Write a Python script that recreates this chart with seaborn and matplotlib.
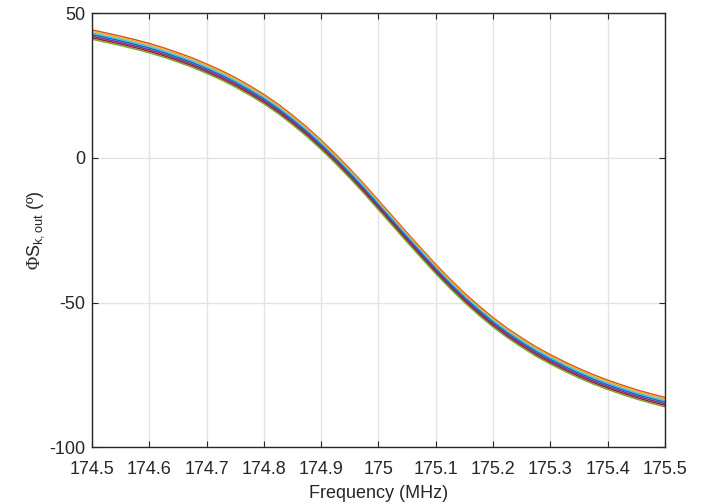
import numpy as np
import pandas as pd
import matplotlib
matplotlib.use("Agg")
import matplotlib.pyplot as plt
import seaborn as sns

# Frequency samples (MHz) and the central phase trace (degrees)
freq_mhz = [174.500, 174.525, 174.550, 174.575, 174.600, 174.625, 174.650, 174.675,
            174.700, 174.725, 174.750, 174.775, 174.800, 174.825, 174.850, 174.875,
            174.900, 174.925, 174.950, 174.975, 175.000, 175.025, 175.050, 175.075,
            175.100, 175.125, 175.150, 175.175, 175.200, 175.225, 175.250, 175.275,
            175.300, 175.325, 175.350, 175.375, 175.400, 175.425, 175.450, 175.475,
            175.500]
phase_center = [42.6, 41.5, 40.4, 39.2, 37.9, 36.4, 34.7, 32.9,
                30.8, 28.6, 26.1, 23.3, 20.3, 16.9, 13.1, 9.0,
                4.5, -0.3, -5.4, -10.7, -16.3, -21.9, -27.5, -33.0,
                -38.4, -43.5, -48.3, -52.7, -56.8, -60.5, -63.8, -66.9,
                -69.6, -72.1, -74.4, -76.5, -78.4, -80.1, -81.7, -83.1,
                -84.4]
# Small spread of the individual traces around the centre (degrees)
trace_offsets = [1.6, 1.1, 0.55, 0.0, -0.55, -1.1, -1.6]
trace_names = ["k=1", "k=2", "k=3", "k=4", "k=5", "k=6", "k=7"]
matlab_colors = ["#D95319", "#EDB120", "#4DBEEE", "#0072BD", "#7E2F8E", "#A2142F", "#77AC30"]

x_ticks = [174.5, 174.6, 174.7, 174.8, 174.9, 175.0, 175.1, 175.2, 175.3, 175.4, 175.5]
x_tick_labels = ["174.5", "174.6", "174.7", "174.8", "174.9", "175", "175.1",
                 "175.2", "175.3", "175.4", "175.5"]
y_ticks = [-100, -50, 0, 50]
y_tick_labels = ["-100", "-50", "0", "50"]

rows = []
for name, off in zip(trace_names, trace_offsets):
    for f, p in zip(freq_mhz, phase_center):
        rows.append({"freq": f, "phase": p + off, "trace": name})
df = pd.DataFrame(rows)

sns.set_theme(style="white")
plt.rcParams["font.family"] = ["Liberation Sans", "DejaVu Sans"]
plt.rcParams["axes.unicode_minus"] = False
plt.rcParams["mathtext.fontset"] = "custom"
plt.rcParams["mathtext.rm"] = "Liberation Serif"
plt.rcParams["mathtext.sf"] = "Liberation Sans"
plt.rcParams["mathtext.it"] = "Liberation Sans:italic"

fig = plt.figure(figsize=(7.05, 5.04), dpi=100)
ax = fig.add_axes([0.1305, 0.1125, 0.8125, 0.8615])

sns.lineplot(data=df, x="freq", y="phase", hue="trace", palette=matlab_colors,
             linewidth=1.1, legend=False, ax=ax, sort=False, estimator=None)

ax.set_xlim(174.5, 175.5)
ax.set_ylim(-100, 50)
ax.set_xticks(x_ticks)
ax.set_xticklabels(x_tick_labels)
ax.set_yticks(y_ticks)
ax.set_yticklabels(y_tick_labels)
dark = "#262626"
ax.grid(True, color="#e3e3e3", linewidth=1.0)
ax.set_axisbelow(True)
for s in ax.spines.values():
    s.set_color(dark)
    s.set_linewidth(1.0)
ax.tick_params(direction="in", length=4.5, width=0.8, colors=dark,
               labelsize=13, top=True, right=True, bottom=True, left=True)
ax.tick_params(axis="x", pad=10)
ax.tick_params(axis="y", pad=5)
ax.set_xlabel("Frequency (MHz)", fontsize=13, color=dark, labelpad=5)
ax.set_ylabel(r"$\mathrm{\Phi}$S$_{\mathsf{k,out}}$ (º)", fontsize=13, color=dark, labelpad=2)

fig.savefig("out.png", dpi=100)
